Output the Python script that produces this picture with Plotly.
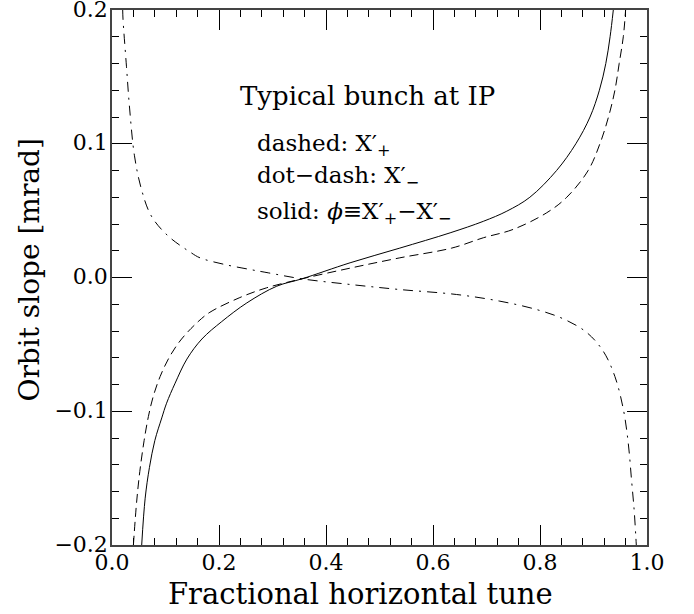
import plotly.graph_objects as go

# X'_+ (dashed)
plus_x = [0.040, 0.046, 0.052, 0.060, 0.068, 0.077, 0.090, 0.108, 0.130, 0.161, 0.183,
          0.239, 0.289, 0.355, 0.445, 0.538, 0.635, 0.694, 0.750, 0.8125, 0.850, 0.890,
          0.912, 0.928, 0.940, 0.948, 0.9557, 0.960]
plus_y = [-0.200, -0.168, -0.145, -0.122, -0.104, -0.089, -0.074, -0.059, -0.046, -0.033, -0.026,
          -0.015, -0.0077, -0.001, 0.007, 0.0147, 0.022, 0.0297, 0.036, 0.0484, 0.060, 0.080,
          0.100, 0.120, 0.140, 0.160, 0.180, 0.200]

# X'_- (dot-dash)
minus_x = [0.020, 0.0206, 0.027, 0.033, 0.042, 0.055, 0.0735, 0.105, 0.148, 0.1645, 0.211,
           0.258, 0.292, 0.355, 0.445, 0.538, 0.644, 0.725, 0.794, 0.844, 0.887, 0.918,
           0.940, 0.956, 0.965, 0.971, 0.976, 0.979, 0.980]
minus_y = [0.200, 0.193, 0.158, 0.126, 0.091, 0.066, 0.046, 0.031, 0.0185, 0.0147, 0.0097,
           0.006, 0.0035, -0.001, -0.0052, -0.009, -0.0127, -0.0177, -0.024, -0.031, -0.041, -0.055,
           -0.074, -0.099, -0.124, -0.151, -0.174, -0.193, -0.200]

# phi = X'_+ - X'_- (solid)
phi_x = [0.0555, 0.062, 0.070, 0.080, 0.093, 0.102, 0.118, 0.140, 0.168, 0.205, 0.252,
         0.308, 0.355, 0.445, 0.538, 0.632, 0.694, 0.738, 0.781, 0.831, 0.867, 0.8935,
         0.911, 0.923, 0.931, 0.937]
phi_y = [-0.200, -0.165, -0.142, -0.122, -0.105, -0.094, -0.079, -0.061, -0.046, -0.033, -0.019,
         -0.0065, -0.001, 0.011, 0.022, 0.0334, 0.042, 0.0496, 0.060, 0.080, 0.100, 0.120,
         0.140, 0.160, 0.180, 0.200]

x_ticks = [0.0, 0.2, 0.4, 0.6, 0.8, 1.0]
y_ticks = [-0.2, -0.1, 0.0, 0.1, 0.2]

FONT = "DejaVu Serif"

fig = go.Figure()
fig.add_trace(go.Scatter(x=plus_x, y=plus_y, mode="lines", line_shape="spline",
                         line=dict(color="black", width=1, dash="9px,5px"), name="X'+"))
fig.add_trace(go.Scatter(x=minus_x, y=minus_y, mode="lines", line_shape="spline",
                         line=dict(color="black", width=1, dash="10px,6px,2px,6px"), name="X'-"))
fig.add_trace(go.Scatter(x=phi_x, y=phi_y, mode="lines", line_shape="spline",
                         line=dict(color="black", width=1), name="phi"))

axis_common = dict(showline=True, mirror="allticks", linecolor="#444", linewidth=1.5,
                   ticks="inside", ticklen=20, tickcolor="black", tickwidth=1,
                   showgrid=False, zeroline=False, tickformat=".1f", automargin=False,
                   ticklabeloverflow="allow",
                   tickfont=dict(family=FONT, size=22, color="black"))

fig.update_xaxes(range=[0, 1], tickvals=x_ticks, ticklabelstandoff=-3,
                 minor=dict(dtick=0.04, ticks="inside", ticklen=7, tickcolor="black", tickwidth=1),
                 **axis_common)
fig.update_yaxes(range=[-0.2, 0.2], tickvals=y_ticks, ticklabelstandoff=-2, ticklabelshift=-1,
                 minor=dict(dtick=0.02, ticks="inside", ticklen=7, tickcolor="black", tickwidth=1),
                 **axis_common)

# axis titles
fig.add_annotation(x=0.4654, y=-0.0916, xref="paper", yref="paper", xanchor="center", yanchor="middle",
                   text="Fractional horizontal tune", showarrow=False,
                   font=dict(family=FONT, size=29, color="black"))
fig.add_annotation(x=-0.1542, y=0.514, xref="paper", yref="paper", xanchor="center", yanchor="middle",
                   text="Orbit slope [mrad]", textangle=-90, showarrow=False,
                   font=dict(family=FONT, size=28, color="black"))

head_font = dict(family=FONT, size=26, color="black")
ann_font = dict(family=FONT, size=23, color="black")
fig.add_annotation(x=0.2355, y=0.1357, xref="x", yref="y", xanchor="left", yanchor="middle",
                   text="Typical bunch at IP", showarrow=False, font=head_font)
fig.add_annotation(x=0.267, y=0.0987, xref="x", yref="y", xanchor="left", yanchor="middle",
                   text="dashed: X′<sub>+</sub>", showarrow=False, font=ann_font)
fig.add_annotation(x=0.267, y=0.0748, xref="x", yref="y", xanchor="left", yanchor="middle",
                   text="dot−dash: X′<sub>−</sub>", showarrow=False, font=ann_font)
fig.add_annotation(x=0.267, y=0.0486, xref="x", yref="y", xanchor="left", yanchor="middle",
                   text="solid: <i>ϕ</i>≡X′<sub>+</sub>−X′<sub>−</sub>", showarrow=False, font=ann_font)

fig.update_layout(width=694, height=614, margin=dict(l=112, r=47, t=10, b=69),
                  plot_bgcolor="white", paper_bgcolor="white", showlegend=False)

# remove the default 8px page margin so the figure fills the window exactly
fig.write_html("out.html", config={"displayModeBar": False},
               post_script="document.body.style.margin='0px';")
